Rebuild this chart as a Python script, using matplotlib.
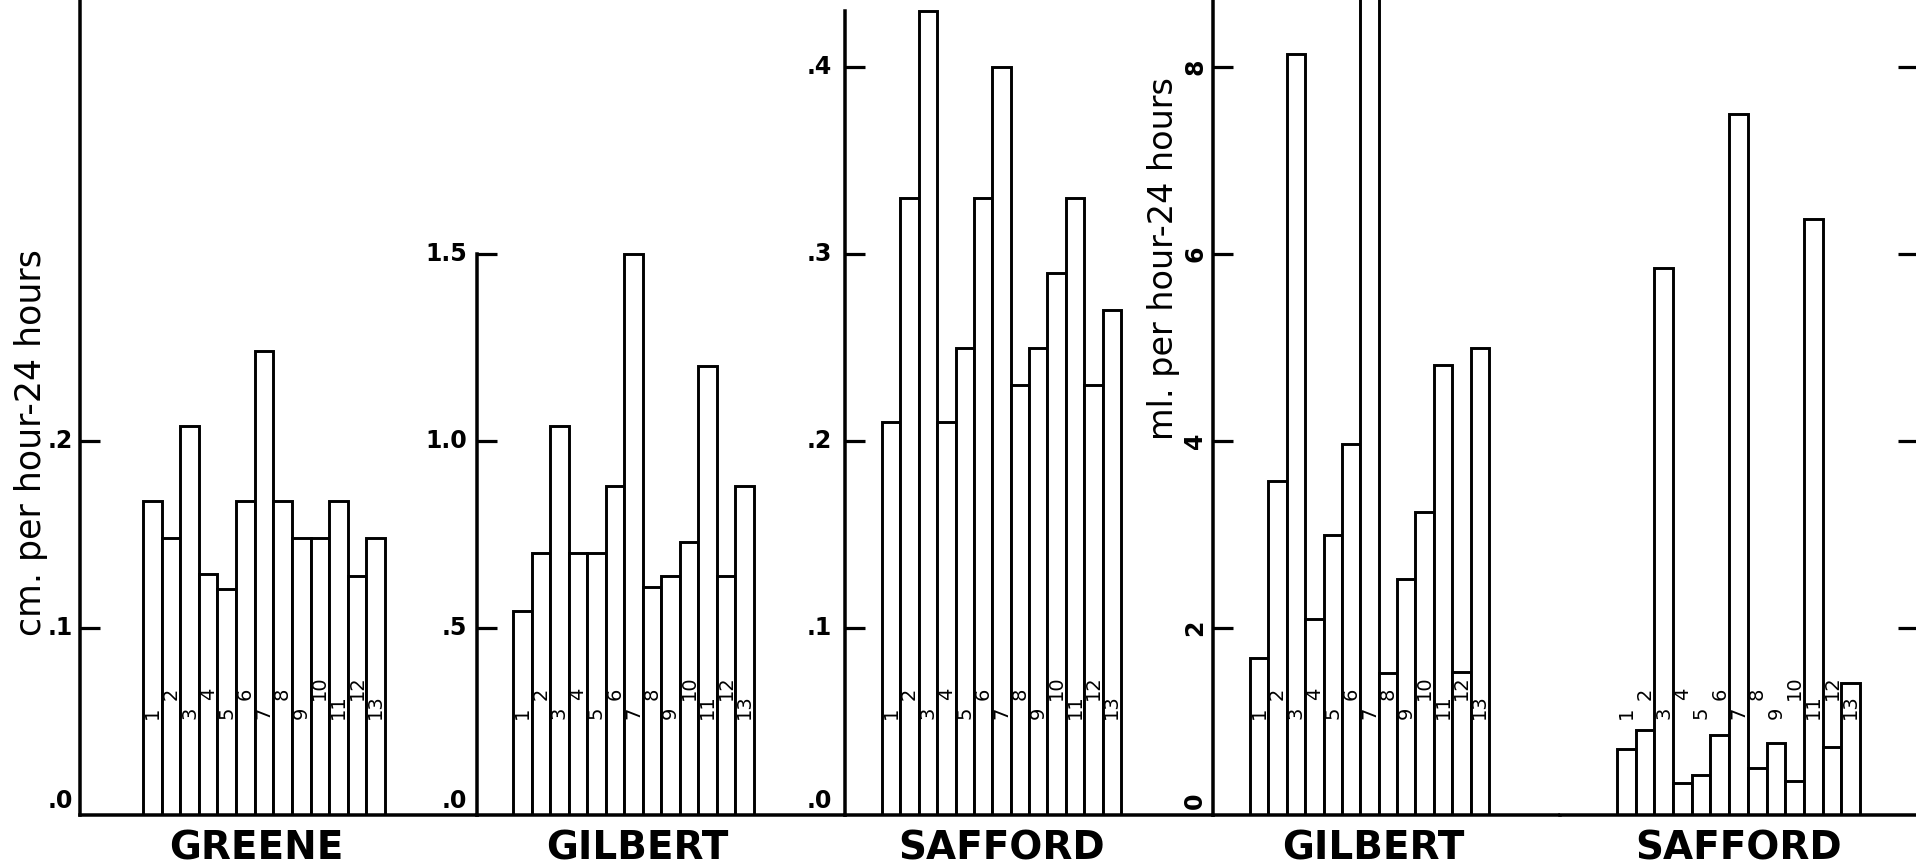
import matplotlib
matplotlib.use("Agg")
import matplotlib.pyplot as plt

# plot numbers under each station
plot_numbers = list(range(1, 14))

# cm. per hour - 24 hours
greene_cm = [0.168, 0.148, 0.208, 0.129, 0.121, 0.168, 0.248, 0.168, 0.148, 0.148, 0.168, 0.128, 0.148]
gilbert_cm = [0.545, 0.70, 1.04, 0.70, 0.70, 0.88, 1.50, 0.61, 0.64, 0.73, 1.20, 0.64, 0.88]
safford_cm = [0.21, 0.33, 0.43, 0.21, 0.25, 0.33, 0.40, 0.23, 0.25, 0.29, 0.33, 0.23, 0.27]

# ml. per hour - 24 hours
gilbert_ml = [1.68, 3.57, 8.14, 2.10, 2.99, 3.97, 9.5, 1.52, 2.52, 3.24, 4.81, 1.53, 5.00]
safford_ml = [0.71, 0.91, 5.85, 0.34, 0.43, 0.86, 7.50, 0.50, 0.77, 0.36, 6.37, 0.73, 1.41]

stations = ["GREENE", "GILBERT", "SAFFORD", "GILBERT", "SAFFORD"]

cm_ticks = [0, 0.1, 0.2, 0.3, 0.4]
cm_labels = [".0", ".1", ".2", ".3", ".4"]
gil_cm_ticks = [0, 0.5, 1.0, 1.5]
gil_cm_labels = [".0", ".5", "1.0", "1.5"]
ml_ticks = [0, 2, 4, 6, 8]
ml_labels = ["0", "2", "4", "6", "8"]

W, H = 1916, 866
BASE = 815      # baseline, px from top
STEP_PX = 187   # px per major tick


def pt(px):
    return px * 72 / 100


# box = (axes left, axes right, first bar left, last bar right) in px
panels = [
    dict(values=greene_cm, box=(80, 477, 143, 385), step=0.1, name_x=6.6,
         ticks=cm_ticks[:3], labels=cm_labels[:3], top=None, pad=7, rot=0),
    dict(values=gilbert_cm, box=(477, 845, 513, 754), step=0.5, name_x=7.2,
         ticks=gil_cm_ticks, labels=gil_cm_labels, top=1.5, pad=10, rot=0),
    dict(values=safford_cm, box=(845, 1213, 882, 1121), step=0.1, name_x=7,
         ticks=cm_ticks, labels=cm_labels, top=0.43, pad=13, rot=0),
    dict(values=gilbert_ml, box=(1213, 1560, 1250, 1489), step=2, name_x=7.2,
         ticks=ml_ticks, labels=ml_labels, top=None, pad=6, rot=90),
    dict(values=safford_ml, box=(1560, 1918, 1617, 1860), step=2, name_x=7,
         ticks=ml_ticks, labels=None, top=None, pad=7, rot=0),
]

fig = plt.figure(figsize=(W / 100, H / 100), dpi=100)

for name, p in zip(stations, panels):
    left, right, b0, b1 = p["box"]
    ax = fig.add_axes([left / W, (H - BASE) / H, (right - left) / W, BASE / H])
    per = (b1 - b0) / 13
    ax.set_xlim(0.5 - (b0 - left) / per, 13.5 + (right - b1) / per)
    ax.set_ylim(0, BASE / STEP_PX * p["step"])

    ax.bar(plot_numbers, p["values"], width=1.0, facecolor="white",
           edgecolor="black", linewidth=2.1)

    for n in plot_numbers:
        ax.annotate(str(n), xy=(n, 0), xytext=(0, pt(96 if n % 2 else 115)),
                    textcoords="offset points", rotation=90, ha="center",
                    va="bottom", fontsize=14, annotation_clip=False)

    ax.annotate(name, xy=(p["name_x"], 0), xytext=(0, -pt(33)),
                textcoords="offset points", ha="center", va="center",
                fontsize=28, fontweight="bold", annotation_clip=False)

    ax.set_xticks([])
    for s in ["top", "right"]:
        ax.spines[s].set_visible(False)
    for s in ["left", "bottom"]:
        ax.spines[s].set_linewidth(pt(3.5))

    ax.tick_params(axis="y", direction="in", length=pt(20), width=pt(3.2),
                   pad=pt(p["pad"]), labelsize=17)

    if p["labels"] is None:
        # right-hand axis, cut off at the edge of the figure
        ax.spines["left"].set_visible(False)
        ax.yaxis.tick_right()
        ax.set_yticks(p["ticks"][1:])
        ax.set_yticklabels([])
        continue

    if p["top"] is not None:
        ax.spines["left"].set_bounds(0, p["top"])
    ax.set_yticks(p["ticks"][1:])
    ax.set_yticklabels(p["labels"][1:], fontweight="bold", rotation=p["rot"],
                       va="center")
    ax.annotate(p["labels"][0], xy=(0, 0), xycoords=("axes fraction", "data"),
                xytext=(-pt(p["pad"]), pt(14)), textcoords="offset points",
                ha="right", va="center", fontsize=17, fontweight="bold",
                rotation=p["rot"], annotation_clip=False)

fig.text(31 / W, 1 - 443 / H, "cm. per hour-24 hours", rotation=90,
         ha="center", va="center", fontsize=25)
fig.text(1164 / W, 1 - 259 / H, "ml. per hour-24 hours", rotation=90,
         ha="center", va="center", fontsize=24)

fig.savefig("out.png", dpi=100)
